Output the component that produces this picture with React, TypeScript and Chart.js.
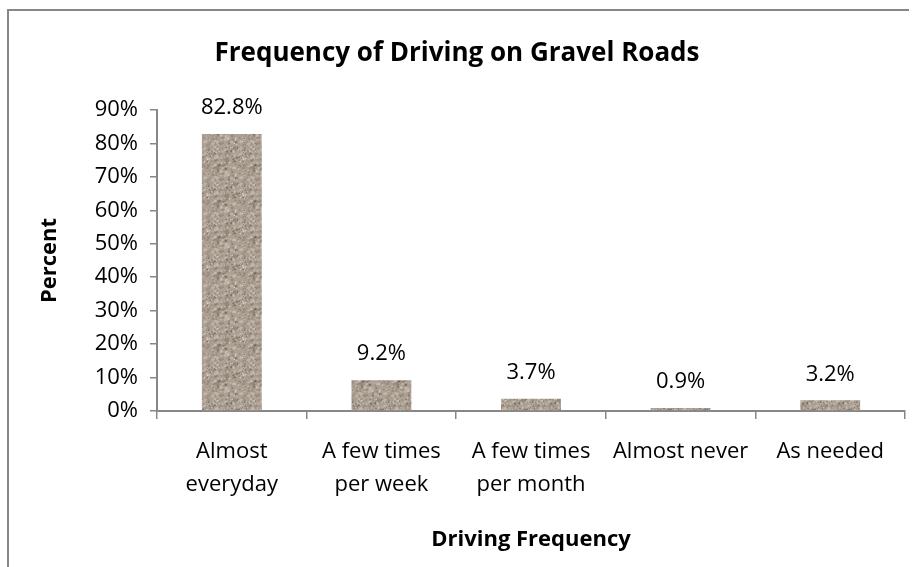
import { useEffect, useRef } from "react";
import { Chart, registerables } from "chart.js";

Chart.register(...registerables);

const titleText = "Frequency of Driving on Gravel Roads";
const xTitle = "Driving Frequency";
const yTitle = "Percent";
const categories: string[][] = [
  ["Almost", "everyday"],
  ["A few times", "per week"],
  ["A few times", "per month"],
  ["Almost never"],
  ["As needed"],
];
const percents = [82.8, 9.2, 3.7, 0.9, 3.2];
const yMin = 0;
const yMax = 90;
const yStep = 10;

const FONT = "'Open Sans'";
const AXIS_COLOR = "#878787";

function makeGranite(): CanvasPattern | string {
  const N = 36;
  const c = document.createElement("canvas");
  c.width = N;
  c.height = N;
  const g = c.getContext("2d");
  if (!g) return "#ad9f92";
  g.fillStyle = "#aca093";
  g.fillRect(0, 0, N, N);
  // deterministic texture hash (style only)
  let s = 98765;
  const next = () => {
    s = (s * 1103515245 + 12345) & 0x7fffffff;
    return s / 0x7fffffff;
  };
  const draw = (col: string, n: number, rmin: number, rmax: number) => {
    g.fillStyle = col;
    for (let i = 0; i < n; i++) {
      const x = next() * N;
      const y = next() * N;
      const r = rmin + next() * (rmax - rmin);
      for (const dx of [-N, 0, N]) {
        for (const dy of [-N, 0, N]) {
          g.beginPath();
          g.arc(x + dx, y + dy, r, 0, Math.PI * 2);
          g.fill();
        }
      }
    }
  };
  draw("rgba(145,131,118,0.65)", 80, 0.8, 1.8);
  draw("rgba(202,193,181,0.7)", 80, 0.6, 1.5);
  draw("rgba(95,84,75,0.6)", 70, 0.4, 1.0);
  draw("rgba(235,230,220,0.75)", 35, 0.3, 0.8);
  const p = g.createPattern(c, "repeat");
  return p || "#ad9f92";
}

const barLabels = {
  id: "barLabels",
  afterDatasetsDraw(chart: any) {
    const ctx = chart.ctx;
    const meta = chart.getDatasetMeta(0);
    ctx.save();
    ctx.fillStyle = "#000";
    ctx.font = `22px ${FONT}`;
    ctx.textAlign = "center";
    ctx.textBaseline = "middle";
    meta.data.forEach((el: any, i: number) => {
      ctx.fillText(percents[i].toFixed(1) + "%", el.x, el.y - 26);
    });
    ctx.restore();
  },
};

export default function App() {
  const ref = useRef<HTMLCanvasElement | null>(null);
  useEffect(() => {
    if (!ref.current) return;
    const chart = new Chart(ref.current, {
      type: "bar",
      data: {
        labels: categories,
        datasets: [
          {
            data: percents,
            backgroundColor: makeGranite() as any,
            borderWidth: 0,
            barPercentage: 0.4,
            categoryPercentage: 1,
          },
        ],
      },
      options: {
        animation: false,
        responsive: true,
        maintainAspectRatio: false,
        layout: { padding: { left: 0, right: 4, top: 0, bottom: 0 } },
        plugins: {
          legend: { display: false },
          tooltip: { enabled: false },
          title: {
            display: true,
            text: titleText,
            color: "#000",
            font: { family: FONT, size: 26, weight: "bold", lineHeight: 1.2 },
            padding: { top: 27.4, bottom: 40.4 },
          },
        },
        scales: {
          x: {
            border: { color: AXIS_COLOR, width: 2 },
            grid: {
              display: true,
              drawOnChartArea: false,
              drawTicks: true,
              tickLength: 8,
              color: AXIS_COLOR,
              lineWidth: 1.5,
            },
            ticks: {
              color: "#000",
              font: { family: FONT, size: 22, lineHeight: 1.5 },
              padding: 16.5,
              maxRotation: 0,
              autoSkip: false,
            },
            title: {
              display: true,
              text: xTitle,
              color: "#000",
              font: { family: FONT, size: 22, weight: "bold", lineHeight: 1.2 },
              padding: { top: 0, bottom: 13.8 },
            },
            afterFit: (scale: any) => {
              scale.height = 156;
            },
          },
          y: {
            min: yMin,
            max: yMax,
            border: { color: AXIS_COLOR, width: 2 },
            grid: {
              display: true,
              drawOnChartArea: false,
              drawTicks: true,
              tickLength: 7,
              color: AXIS_COLOR,
              lineWidth: 1.5,
            },
            ticks: {
              stepSize: yStep,
              color: "#000",
              font: { family: FONT, size: 22 },
              padding: 12,
              callback: (v: any) => v + "%",
            },
            title: {
              display: true,
              text: yTitle,
              color: "#000",
              font: { family: FONT, size: 22, weight: "bold", lineHeight: 1.2 },
              padding: { top: 28, bottom: 0 },
            },
            afterFit: (scale: any) => {
              scale.width = 148;
            },
          },
        },
      },
      plugins: [barLabels],
    });
    return () => chart.destroy();
  }, []);

  return (
    <div
      style={{
        position: "fixed",
        left: 7,
        top: 9,
        width: 900,
        height: 556,
        borderLeft: `2px solid ${AXIS_COLOR}`,
        borderTop: `2px solid ${AXIS_COLOR}`,
        background: "#fff",
      }}
    >
      <canvas ref={ref} />
    </div>
  );
}
